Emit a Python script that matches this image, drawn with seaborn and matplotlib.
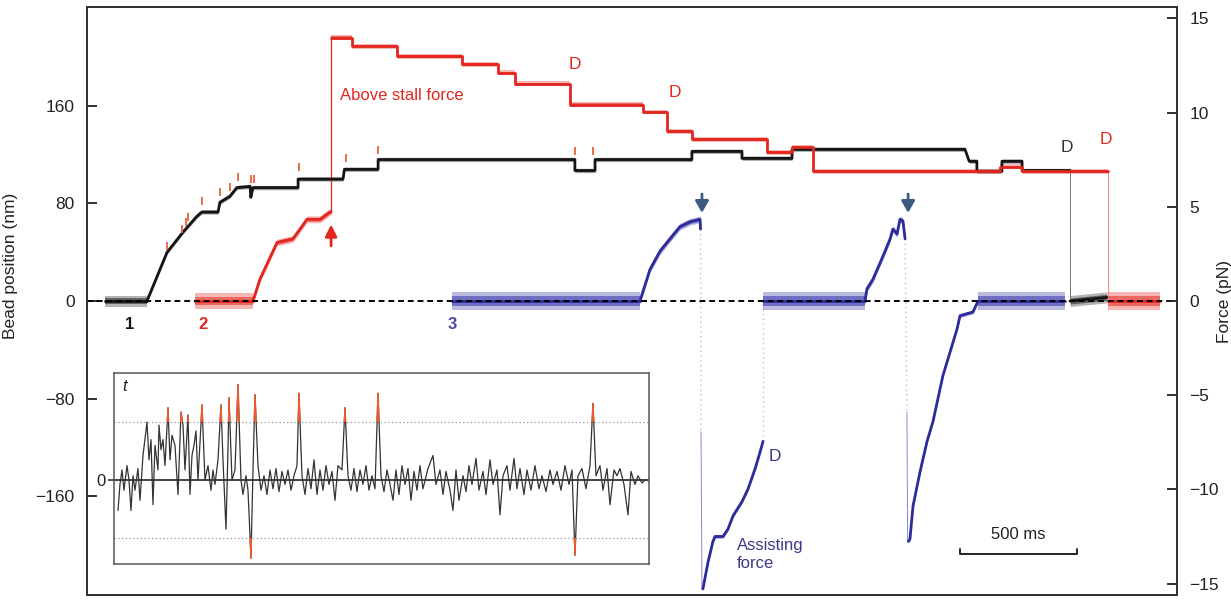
import numpy as np
import pandas as pd
import matplotlib
matplotlib.use("Agg")
import matplotlib.pyplot as plt
import seaborn as sns
from matplotlib.patches import Rectangle

# ---------------- data (time in ms, bead position in nm) ----------------
# trace 1 (black)
black_base1_t = [77, 256]
black_base1_y = [0, 0]
black_main_t = [256, 342, 410, 470, 491, 560, 568, 611, 640, 697, 700, 709, 902, 902, 1094, 1100,
                1244, 1244, 2085, 2085, 2171, 2171, 2585, 2585, 2799, 2799, 3013, 3013, 3752, 3770,
                3803, 3803, 3910, 3910, 3996, 3996, 4201]
black_main_y = [0, 40, 56.5, 69.6, 73, 73, 81, 86, 93, 94, 85, 93, 93, 100, 100, 108,
                108, 116, 116, 107, 107, 116, 116, 122.7, 122.7, 117, 117, 124.4, 124.4, 114.6,
                114.6, 106.4, 106.4, 114.6, 114.6, 107, 107]
black_base2_t = [4201, 4359]
black_base2_y = [0, 3]

# trace 2 (red)
red_base1_t = [462, 709]
red_base1_y = [0, 0]
red_ramp_t = [709, 739, 812, 880, 940, 996, 1038, 1043]
red_ramp_y = [0, 18, 48, 51, 67, 67, 73, 73]
red_high_t = [1043, 1132, 1132, 1325, 1325, 1603, 1603, 1756, 1756, 1829, 1829, 2064, 2064, 2376,
              2376, 2479, 2479, 2585, 2585, 2906, 2906, 3013, 3013, 3103, 3103, 3902, 3902, 3996,
              3996, 4363]
red_high_y = [216, 216, 209, 209, 200.5, 200.5, 194, 194, 187, 187, 178, 178, 161, 161,
              155, 155, 139, 139, 132.6, 132.6, 122, 122, 126, 126, 106.4, 106.4, 110, 110,
              106.4, 106.4]
red_base2_t = [4363, 4586]
red_base2_y = [0, 0]

# trace 3 (blue)
blue_base1_t = [1560, 2363]
blue_base1_y = [0, 0]
blue_ramp1_t = [2363, 2406, 2449, 2491, 2534, 2577, 2620, 2622]
blue_ramp1_y = [0, 26, 41, 51, 61, 65, 67, 59]
blue_assist1_t = [2624, 2628, 2632, 2654, 2675, 2684, 2718, 2739, 2761, 2799, 2825, 2855, 2876, 2889]
blue_assist1_y = [-107, -236, -236, -214, -197, -193, -193, -187, -176, -164.5, -154, -137.5, -124, -115]
blue_base2_t = [2889, 3325]
blue_base2_y = [0, 0]
blue_ramp2_t = [3325, 3333, 3359, 3402, 3432, 3444, 3462, 3474, 3487, 3496]
blue_ramp2_y = [0, 10, 18, 37, 51, 59, 55, 67, 65.5, 51]
blue_assist2_t = [3504, 3507, 3510, 3517, 3530, 3560, 3590, 3615, 3658, 3688, 3718, 3731, 3786, 3808]
blue_assist2_y = [-91, -197, -197, -195, -168, -140, -115, -99, -61, -42, -23, -12, -9, 0]
blue_base3_t = [3808, 4179]
blue_base3_y = [0, 0]
blue_gap_t = [[2622, 2624], [2889, 2889], [3496, 3504]]
blue_gap_y = [[59, -107], [-115, 0], [51, -91]]

# step markers (red ticks above black steps)
step_mark_t = [342, 406, 423, 432, 491, 568, 611, 645, 701, 714, 906, 1107, 1244, 2085, 2162]
step_mark_y = [45, 59, 64.6, 68.7, 81.8, 89.2, 93.3, 101.5, 99.8, 99.8, 109.7, 117, 123.6, 122.7, 122.7]

# inset: t-statistic trace, (frame, t) samples
inset_samples = [
    (4, -2.1), (6, -0.3), (8, 0.7), (10, -0.7), (13, 1.0), (15, 0.0), (17, -2.1), (19, 0.3),
    (21, -0.7), (24, 0.8), (26, -1.4), (29, 1.7), (33, 4.0), (35, 1.4), (37, 2.8), (39, -1.7),
    (41, 2.4), (44, 0.7), (45, 3.8), (47, 2.1), (49, 2.8), (51, 1.0), (54, 5.0), (56, 1.4),
    (58, 3.1), (61, 2.4), (64, -1.0), (67, 4.7), (69, 3.8), (71, 0.7), (74, 4.5), (76, -1.0),
    (78, 1.7), (80, 2.4), (82, 3.4), (84, 0.0), (88, 5.2), (91, 0.0), (94, 1.0), (97, -0.7),
    (99, 0.7), (101, -0.3), (104, 1.4), (107, 5.2), (109, 1.4), (112, -3.4), (114, 2.1),
    (115, 5.7), (118, 0.0), (121, 0.7), (124, 6.6), (127, 0.0), (129, -1.0), (132, 0.3),
    (134, -0.7), (137, -5.4), (139, 0.7), (141, 5.9), (144, 1.0), (147, -0.7), (150, 0.3),
    (153, -1.0), (156, 0.7), (159, -0.6), (162, 0.8), (165, -0.8), (168, 0.6), (171, -0.3),
    (174, 0.7), (177, -0.7), (180, 0.3), (183, 1.0), (185, 6.0), (188, 0.3), (191, -1.0),
    (194, 0.8), (197, -0.6), (200, 1.4), (203, -1.0), (206, 0.7), (209, -0.7), (212, 1.0),
    (215, -0.3), (218, 0.6), (221, -1.4), (224, 1.0), (228, 0.7), (231, 5.0), (234, 0.3),
    (237, -0.7), (240, 0.8), (243, -0.8), (246, 0.7), (249, -0.3), (252, 1.0), (255, -0.7),
    (258, 0.3), (261, -0.6), (264, 6.0), (267, 0.3), (270, -0.8), (273, 0.7), (276, -0.3),
    (279, -1.4), (282, 0.7), (285, -1.0), (288, 1.0), (291, -0.3), (294, 0.8), (297, -1.4),
    (300, 0.6), (303, -0.7), (306, 1.0), (309, -0.6), (314, 0.8), (319, 1.7), (322, -0.3),
    (326, 0.7), (329, -1.0), (332, 0.6), (336, -0.7), (339, -2.1), (342, 0.7), (345, -1.4),
    (349, 0.3), (352, -0.8), (355, 1.0), (358, -0.3), (362, 1.5), (365, -0.7), (369, 0.6),
    (372, -1.0), (376, 1.4), (379, -0.3), (383, 0.7), (386, -2.4), (389, 0.3), (393, 1.0),
    (396, -0.7), (400, 1.5), (403, -0.6), (406, 0.8), (410, -1.0), (413, 0.7), (417, -0.7),
    (421, 1.0), (425, -0.6), (428, 0.3), (432, -0.8), (436, 0.7), (439, -0.3), (443, 0.6),
    (447, -0.7), (451, 1.0), (455, -0.3), (458, 0.7), (461, -5.2), (464, 0.3), (468, 0.8),
    (472, -0.6), (476, 1.0), (479, 5.3), (482, 0.3), (486, 1.0), (489, -0.7), (493, 0.8),
    (496, -1.7), (500, 0.7), (503, 0.3), (506, 0.8), (510, -0.3), (514, -2.4), (517, 0.6),
    (521, -0.3), (524, 0.3), (528, -0.2), (531, 0.0),
]
inset_threshold = 4.0

# axis scales
pos_ticks = [-160, -80, 0, 80, 160]
force_ticks = [-15, -10, -5, 0, 5, 10, 15]
scale_bar_ms = 500

# ---------------- style ----------------
sns.set_style("ticks")
plt.rcParams["font.family"] = ["Liberation Sans", "DejaVu Sans"]

RED = "#e3261f"
BLACK = "#151515"
BLUE = "#2d2c9a"
ARROW_BLUE = "#3d5a80"

fig = plt.figure(figsize=(12.31, 6.02), dpi=100)
ax = fig.add_axes([0.0707, 0.0116, 0.8854, 0.9767])

segments = [
    ("black", black_base1_t, black_base1_y, 4.5),
    ("black", black_main_t, black_main_y, 1.8),
    ("black", black_base2_t, black_base2_y, 4.5),
    ("red", red_base1_t, red_base1_y, 6.5),
    ("red", red_ramp_t, red_ramp_y, 2.8),
    ("red", red_high_t, red_high_y, 2.0),
    ("red", red_base2_t, red_base2_y, 7.0),
    ("blue", blue_base1_t, blue_base1_y, 7.0),
    ("blue", blue_ramp1_t, blue_ramp1_y, 2.8),
    ("blue", blue_assist1_t[2:], blue_assist1_y[2:], 1.6),
    ("blue", blue_base2_t, blue_base2_y, 7.0),
    ("blue", blue_ramp2_t, blue_ramp2_y, 2.8),
    ("blue", blue_assist2_t[2:], blue_assist2_y[2:], 1.6),
    ("blue", blue_base3_t, blue_base3_y, 7.0),
]
colors = {"black": BLACK, "red": RED, "blue": BLUE}
band_colors = {"black": "#2a2a2a", "red": "#e8322a", "blue": "#3c3cae"}

# noise envelopes: a light outer band and a denser inner band
for name, t, y, n in segments:
    t = np.asarray(t, float); y = np.asarray(y, float)
    ax.fill_between(t, y - n, y + n, color=band_colors[name], alpha=0.35, lw=0, zorder=2)
    ax.fill_between(t, y - 0.55 * n, y + 0.55 * n, color=band_colors[name], alpha=0.6, lw=0, zorder=2)

# thin fast transitions
ax.plot([1043, 1043], [73, 216], color=RED, lw=0.9, zorder=3)
ax.plot([4201, 4201], [107, 0], color="#777777", lw=0.7, zorder=3)
ax.plot([4363, 4363], [106.4, 0], color="#f08a80", lw=0.7, zorder=3)
ax.plot(blue_assist1_t[:3], blue_assist1_y[:3], color="#8888cc", lw=0.7, zorder=3)
ax.plot(blue_assist2_t[:3], blue_assist2_y[:3], color="#8888cc", lw=0.7, zorder=3)
for gt, gy in zip(blue_gap_t, blue_gap_y):
    ax.plot(gt, gy, color="#b8c0dc", lw=1.0, ls=(0, (1, 2.5)), zorder=1)

rows = []
for i, (name, t, y, n) in enumerate(segments):
    for tt, yy in zip(t, y):
        rows.append({"t": tt, "y": yy, "trace": name, "seg": i})
df = pd.DataFrame(rows)
sns.lineplot(data=df, x="t", y="y", hue="trace", units="seg", estimator=None, sort=False,
             palette=colors, lw=2.0, legend=False, ax=ax, zorder=4)

# zero line
ax.axhline(0, color="black", lw=1.4, ls=(0, (3, 2)), zorder=5)

# step markers
ax.scatter(step_mark_t, step_mark_y, marker="|", s=35, color="#e8542b", linewidths=1.2, zorder=6)

ax.set_xlim(0, 4658)
ax.set_ylim(-241, 241)
ax.set_yticks(pos_ticks)
ax.set_xticks([])
ax.set_xlabel("")
ax.set_ylabel("Bead position (nm)", fontsize=12.5, color="#222")
ax.yaxis.set_label_coords(-0.063, 0.56)
ax.tick_params(axis="y", direction="in", length=7, width=1.3, labelsize=12.5, pad=9, colors="#222")
for s in ax.spines.values():
    s.set_linewidth(1.4)
    s.set_color("#333333")

ax2 = ax.twinx()
ax2.set_ylim(-15.6, 15.6)
ax2.set_yticks(force_ticks)
ax2.set_ylabel("Force (pN)", fontsize=12.5, color="#222")
ax2.yaxis.set_label_coords(1.037, 0.5)
ax2.tick_params(axis="y", direction="in", length=7, width=1.3, labelsize=12.5, pad=9, colors="#222")
for s in ax2.spines.values():
    s.set_linewidth(1.4)
    s.set_color("#333333")

# annotations
ax.text(184, -19, "1", color=BLACK, fontsize=12, fontweight="bold", ha="center", va="center")
ax.text(496, -19, "2", color=RED, fontsize=12, fontweight="bold", ha="center", va="center")
ax.text(1560, -19, "3", color="#4a4aa8", fontsize=12, fontweight="bold", ha="center", va="center")
ax.text(1081, 168.6, "Above stall force", color=RED, fontsize=12, ha="left", va="center")
ax.text(2085, 194, "D", color=RED, fontsize=12.5, ha="center", va="center")
ax.text(2513, 171, "D", color=RED, fontsize=12.5, ha="center", va="center")
ax.text(4188, 126, "D", color="#333333", fontsize=12.5, ha="center", va="center")
ax.text(4355, 132.6, "D", color=RED, fontsize=12.5, ha="center", va="center")
ax.text(2940, -127.7, "D", color="#3a3a8a", fontsize=12.5, ha="center", va="center")
ax.text(2778, -208, "Assisting\nforce", color="#3a3a8a", fontsize=12, ha="left", va="center",
        linespacing=1.25)

ax.annotate("", xy=(1043, 65), xytext=(1043, 43),
            arrowprops=dict(arrowstyle="-|>,head_width=0.35,head_length=0.7", color=RED, lw=2))
for xa in (2628, 3509):
    ax.annotate("", xy=(xa, 70), xytext=(xa, 90),
                arrowprops=dict(arrowstyle="-|>,head_width=0.4,head_length=0.7", color=ARROW_BLUE, lw=2))

# scale bar
sb_x0 = 3731
ax.plot([sb_x0, sb_x0, sb_x0 + scale_bar_ms, sb_x0 + scale_bar_ms], [-203, -207, -207, -203],
        color="#222", lw=1.4)
ax.text(sb_x0 + scale_bar_ms / 2, -191, "500 ms", fontsize=12, ha="center", va="center", color="#222")

# ---------------- inset ----------------
inset_x = [p[0] for p in inset_samples]
inset_t = [p[1] for p in inset_samples]
ax_in = fig.add_axes([0.0926, 0.0631, 0.4346, 0.3173])
ax_in.set_facecolor("white")
ax_in.axhline(0, color="#222", lw=1.2, zorder=1)
for th in (inset_threshold, -inset_threshold):
    ax_in.axhline(th, color="#999", lw=0.9, ls=(0, (1, 2)), zorder=1)
idf = pd.DataFrame({"x": inset_x, "t": inset_t})
sns.lineplot(data=idf, x="x", y="t", sort=False, estimator=None, color="#333333", lw=0.9, ax=ax_in,
             zorder=3)
sns.lineplot(data=idf, x="x", y="t", sort=False, estimator=None, color="#ee5a2a", lw=1.0, ax=ax_in,
             zorder=4)
sns.lineplot(data=idf, x="x", y="t", sort=False, estimator=None, color="#ee5a2a", lw=1.0, ax=ax_in,
             zorder=4)
up = Rectangle((0, inset_threshold), 600, 10, transform=ax_in.transData)
dn = Rectangle((0, -20), 600, 20 - inset_threshold, transform=ax_in.transData)
ax_in.lines[-2].set_clip_path(up)
ax_in.lines[-1].set_clip_path(dn)
ax_in.set_xlim(0, 535)
ax_in.set_ylim(-5.8, 7.4)
ax_in.set_xticks([])
ax_in.set_yticks([0])
ax_in.set_yticklabels(["0"])
ax_in.set_xlabel("")
ax_in.set_ylabel("")
ax_in.tick_params(axis="y", direction="out", length=4, width=1.1, labelsize=12, pad=2, colors="#222")
for s in ax_in.spines.values():
    s.set_linewidth(1.1)
    s.set_color("#555555")
ax_in.text(0.015, 0.93, "t", transform=ax_in.transAxes, fontsize=12, style="italic",
           ha="left", va="center", color="#222")

fig.savefig("out.png", dpi=100)
